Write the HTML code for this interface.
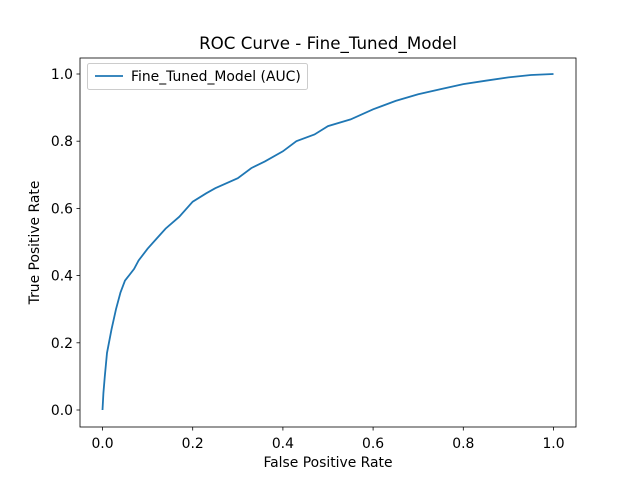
<!DOCTYPE html>
<html><head><meta charset="utf-8"><style>
body{margin:0;background:#fff;}
svg{display:block;font-family:"DejaVu Sans","Liberation Sans",sans-serif;}
</style></head><body>
<svg id="chart" width="640" height="480">
<rect width="640" height="480" fill="#fff"/>
<text x="328" y="49" font-size="16.7" text-anchor="middle">ROC Curve - Fine_Tuned_Model</text>
<g id="xticks"></g>
<g id="yticks"></g>
<path id="curve" fill="none" stroke="#1f77b4" stroke-width="1.8"/>
<rect x="80" y="58" width="496" height="369" fill="none" stroke="#000" stroke-width="0.8"/>
<text x="328" y="467" font-size="13.9" text-anchor="middle">False Positive Rate</text>
<text transform="translate(39,242.5) rotate(-90)" font-size="13.9" text-anchor="middle">True Positive Rate</text>
<g>
<rect x="87.5" y="63.5" width="220" height="26" rx="2" fill="#fff" stroke="#ccc" stroke-width="1"/>
<line x1="95" y1="76" x2="123" y2="76" stroke="#1f77b4" stroke-width="1.8"/>
<text x="131" y="81" font-size="13.9">Fine_Tuned_Model (AUC)</text>
</g>
</svg>
<script>
const fpr=[0,0.002,0.005,0.01,0.02,0.03,0.04,0.05,0.07,0.08,0.1,0.12,0.14,0.17,0.2,0.23,0.25,0.3,0.33,0.36,0.4,0.43,0.47,0.5,0.55,0.6,0.65,0.7,0.75,0.8,0.85,0.9,0.95,1];
const tpr=[0,0.05,0.1,0.17,0.24,0.3,0.35,0.385,0.42,0.445,0.48,0.51,0.54,0.575,0.62,0.645,0.66,0.69,0.72,0.74,0.77,0.8,0.82,0.845,0.865,0.895,0.92,0.94,0.955,0.97,0.98,0.99,0.997,1];
const xTicks=[0,0.2,0.4,0.6,0.8,1.0];
const yTicks=[0,0.2,0.4,0.6,0.8,1.0];
const X=v=>102.5+v*451, Y=v=>410-v*336;
const NS="http://www.w3.org/2000/svg";
document.getElementById('curve').setAttribute('d',fpr.map((f,i)=>(i?'L':'M')+X(f).toFixed(1)+','+Y(tpr[i]).toFixed(1)).join(''));
const gx=document.getElementById('xticks'),gy=document.getElementById('yticks');
xTicks.forEach(t=>{
 const l=document.createElementNS(NS,'line');
 l.setAttribute('x1',X(t));l.setAttribute('x2',X(t));l.setAttribute('y1',427);l.setAttribute('y2',430.5);l.setAttribute('stroke','#000');l.setAttribute('stroke-width','0.8');
 
 
 gx.appendChild(l);
 const s=document.createElementNS(NS,'text');
 s.setAttribute('x',X(t));s.setAttribute('y',448);s.setAttribute('font-size','13.9');s.setAttribute('text-anchor','middle');s.textContent=t.toFixed(1);
 
 
 gx.appendChild(s);
});
yTicks.forEach(t=>{
 const l=document.createElementNS(NS,'line');
 l.setAttribute('x1',76.5);l.setAttribute('x2',80);l.setAttribute('y1',Y(t));l.setAttribute('y2',Y(t));l.setAttribute('stroke','#000');l.setAttribute('stroke-width','0.8');
 
 
 gy.appendChild(l);
 const s=document.createElementNS(NS,'text');
 s.setAttribute('x',73);s.setAttribute('y',Y(t)+5);s.setAttribute('font-size','13.9');s.setAttribute('text-anchor','end');s.textContent=t.toFixed(1);
 
 
 gy.appendChild(s);
});
</script>
</body></html>
